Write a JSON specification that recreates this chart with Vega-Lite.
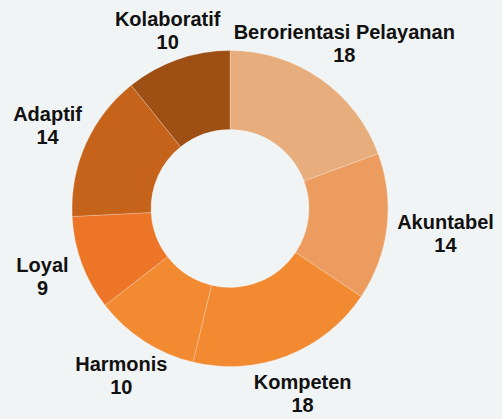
{
  "$schema": "https://vega.github.io/schema/vega-lite/v6.json",
  "width": 460,
  "height": 417,
  "autosize": "none",
  "padding": {"left": 0, "top": 0, "right": 42, "bottom": 2},
  "background": "#f1f4f5",
  "config": {"view": {"stroke": null}},
  "data": {
    "values": [
      {"name": "Berorientasi Pelayanan", "value": 18, "order": 1},
      {"name": "Akuntabel", "value": 14, "order": 2},
      {"name": "Kompeten", "value": 18, "order": 3},
      {"name": "Harmonis", "value": 10, "order": 4},
      {"name": "Loyal", "value": 9, "order": 5},
      {"name": "Adaptif", "value": 14, "order": 6},
      {"name": "Kolaboratif", "value": 10, "order": 7}
    ]
  },
  "transform": [{"calculate": "datum.name + '\\n' + datum.value", "as": "label"}],
  "encoding": {
    "theta": {"field": "value", "type": "quantitative", "stack": true},
    "order": {"field": "order", "type": "quantitative"}
  },
  "layer": [
    {
      "mark": {"type": "arc", "outerRadius": 158, "innerRadius": 79, "stroke": "#ffffff", "strokeWidth": 0.6, "strokeOpacity": 0.4},
      "encoding": {
        "color": {
          "field": "name",
          "type": "nominal",
          "scale": {
            "domain": ["Berorientasi Pelayanan", "Akuntabel", "Kompeten", "Harmonis", "Loyal", "Adaptif", "Kolaboratif"],
            "range": ["#e8ad7d", "#ec9c5e", "#f28a32", "#f28a32", "#ec7527", "#c6631a", "#9e4f14"]
          },
          "legend": null
        }
      }
    },
    {
      "mark": {"type": "text", "radius": 200, "dy": -11.5, "font": "Liberation Sans", "fontWeight": "bold", "fontSize": 20, "lineBreak": "\n", "lineHeight": 23, "fill": "#111111"},
      "encoding": {
        "detail": {"field": "name", "type": "nominal"},
        "text": {"field": "label", "type": "nominal"},
        "opacity": {"condition": {"test": "datum.name !== 'Akuntabel' && datum.name !== 'Kolaboratif'", "value": 1}, "value": 0}
      }
    },
    {
      "mark": {"type": "text", "radius": 217, "dy": -11.5, "font": "Liberation Sans", "fontWeight": "bold", "fontSize": 20, "lineBreak": "\n", "lineHeight": 23, "fill": "#111111"},
      "encoding": {
        "detail": {"field": "name", "type": "nominal"},
        "text": {"field": "label", "type": "nominal"},
        "opacity": {"condition": {"test": "datum.name === 'Akuntabel'", "value": 1}, "value": 0}
      }
    },
    {
      "mark": {"type": "text", "radius": 188, "dy": -11.5, "font": "Liberation Sans", "fontWeight": "bold", "fontSize": 20, "lineBreak": "\n", "lineHeight": 23, "fill": "#111111"},
      "encoding": {
        "detail": {"field": "name", "type": "nominal"},
        "text": {"field": "label", "type": "nominal"},
        "opacity": {"condition": {"test": "datum.name === 'Kolaboratif'", "value": 1}, "value": 0}
      }
    }
  ]
}
